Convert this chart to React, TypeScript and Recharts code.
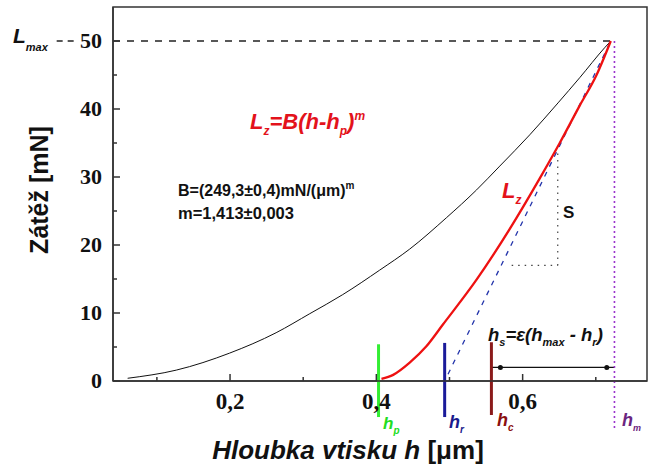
import {
  LineChart,
  Line,
  XAxis,
  YAxis,
  ReferenceLine,
  ReferenceArea,
  ReferenceDot,
} from "recharts";

// loading curve (black)
const loadH = [0.06, 0.1265, 0.1994, 0.263, 0.309, 0.354, 0.4045, 0.4456, 0.4957, 0.537, 0.5687, 0.6097, 0.6484, 0.678, 0.712, 0.7205];
const loadL = [0.4, 1.6, 4.1, 7.1, 9.9, 12.7, 16.3, 19.4, 24.0, 28.1, 31.6, 36.2, 40.9, 44.6, 49.0, 50.0];

// unloading curve (red fit)
const unloadH = [0.407, 0.423, 0.4456, 0.4684, 0.491, 0.537, 0.582, 0.6234, 0.6507, 0.678, 0.701, 0.7205];
const unloadL = [0.3, 0.9, 2.7, 5.1, 8.3, 14.9, 22.3, 29.8, 35.0, 40.5, 45.0, 50.0];

// tangent at the top of unloading (blue dashed)
const tangentH = [0.498, 0.7205];
const tangentL = [1.0, 50.0];

const xTicks = [0.1, 0.2, 0.3, 0.4, 0.5, 0.6, 0.7];
const xLabels: Record<string, string> = { "0.2": "0,2", "0.4": "0,4", "0.6": "0,6" };
const yTicks = [0, 5, 10, 15, 20, 25, 30, 35, 40, 45, 50];

const lMax = 50;
const hp = 0.403;
const hr = 0.4934;
const hc = 0.5573;
const hmax = 0.7255;
const hPeak = 0.7205;
const arrowL = 2;
const sTriangle = { h1: 0.585, h2: 0.648, l1: 17, l2: 34 };

const loadData = loadH.map((h, i) => ({ h, L: loadL[i] }));
const unloadData = unloadH.map((h, i) => ({ h, L: unloadL[i] }));
const tangentData = tangentH.map((h, i) => ({ h, L: tangentL[i] }));

const AXIS = "#333";
const SANS = "'Liberation Sans', Arial, sans-serif";
const SERIF = "'Liberation Serif', 'Times New Roman', serif";

function XTick(props: any) {
  const { x, y, payload } = props;
  const key = String(Math.round(payload.value * 10) / 10);
  const label = xLabels[key];
  return (
    <g>
      <line x1={x} y1={y} x2={x} y2={y - (label ? 7 : 4)} stroke={AXIS} strokeWidth={1.5} />
      {label && (
        <text x={x} y={y + 28} textAnchor="middle" fontFamily={SERIF} fontWeight="bold" fontSize={23} fill="#111">
          {label}
        </text>
      )}
    </g>
  );
}

function YTick(props: any) {
  const { x, y, payload } = props;
  const major = payload.value % 10 === 0;
  return (
    <g>
      <line x1={x} y1={y} x2={x + (major ? 7 : 4)} y2={y} stroke={AXIS} strokeWidth={1.5} />
      {major && (
        <text x={x - 11} y={y + 7} textAnchor="end" fontFamily={SERIF} fontWeight="bold" fontSize={22} fill="#111">
          {payload.value}
        </text>
      )}
    </g>
  );
}

function Overlay() {
  return (
    <svg width={648} height={468} style={{ position: "absolute", left: 0, top: 0, pointerEvents: "none" }}>
      {/* L_max */}
      <text x={13} y={43} fontFamily={SANS} fontWeight="bold" fontStyle="italic" fontSize={21} fill="#111">
        L<tspan fontSize={11} dy={8}>max</tspan>
      </text>

      {/* red fit formula */}
      <text x={250} y={129} fontFamily={SANS} fontWeight="bold" fontStyle="italic" fontSize={22} fill="#e3121b">
        L<tspan fontSize={12} dy={6}>z</tspan>
        <tspan dy={-6}>=B(h-h</tspan>
        <tspan fontSize={12} dy={6}>p</tspan>
        <tspan dy={-6}>)</tspan>
        <tspan fontSize={12} dy={-9}>m</tspan>
      </text>

      <text x={178} y={196} fontFamily={SANS} fontWeight="bold" fontSize={16} fill="#111">
        B=(249,3±0,4)mN/(μm)<tspan fontSize={10} dy={-7}>m</tspan>
      </text>
      <text x={178} y={219} fontFamily={SANS} fontWeight="bold" fontSize={16.5} fill="#111">
        m=1,413±0,003
      </text>

      <text x={502} y={198} fontFamily={SANS} fontWeight="bold" fontStyle="italic" fontSize={22} fill="#e3121b">
        L<tspan fontSize={12} dy={6}>z</tspan>
      </text>

      <text x={563} y={218} fontFamily={SANS} fontWeight="bold" fontSize={17} fill="#111">
        S
      </text>

      <text x={488} y={341} fontFamily={SANS} fontWeight="bold" fontStyle="italic" fontSize={18.5} fill="#111">
        h<tspan fontSize={11} dy={5}>s</tspan>
        <tspan dy={-5}>=ε(h</tspan>
        <tspan fontSize={11} dy={5}>max</tspan>
        <tspan dy={-5}> - h</tspan>
        <tspan fontSize={11} dy={5}>r</tspan>
        <tspan dy={-5}>)</tspan>
      </text>

      <text x={383} y={429} fontFamily={SANS} fontWeight="bold" fontStyle="italic" fontSize={17} fill="#22dd22">
        h<tspan fontSize={10} dy={5}>p</tspan>
      </text>
      <text x={449} y={428} fontFamily={SANS} fontWeight="bold" fontStyle="italic" fontSize={18} fill="#1a1a8c">
        h<tspan fontSize={10} dy={5}>r</tspan>
      </text>
      <text x={497} y={426} fontFamily={SANS} fontWeight="bold" fontStyle="italic" fontSize={18} fill="#8b1010">
        h<tspan fontSize={10} dy={5}>c</tspan>
      </text>
      <text x={622} y={426} fontFamily={SANS} fontWeight="bold" fontStyle="italic" fontSize={18} fill="#6b2580">
        h<tspan fontSize={9} dy={5}>m</tspan>
      </text>

      {/* axis titles */}
      <text
        x={39}
        y={190}
        transform="rotate(-90 39 190)"
        dy={9}
        textAnchor="middle"
        fontFamily={SANS}
        fontWeight="bold"
        fontSize={25}
        fill="#111"
      >
        Zátěž [mN]
      </text>
      <text x={348} y={459} textAnchor="middle" fontFamily={SANS} fontWeight="bold" fontSize={26} fill="#111">
        <tspan fontStyle="italic">Hloubka vtisku h </tspan>[μm]
      </text>
    </svg>
  );
}

export default function App() {
  return (
    <div style={{ position: "absolute", left: 0, top: 0, width: 648, height: 468, background: "#fff" }}>
      <LineChart width={648} height={468} margin={{ top: 7, right: 1, bottom: 0, left: 0 }}>
        <XAxis
          type="number"
          dataKey="h"
          domain={[0.04, 0.77]}
          ticks={xTicks}
          allowDataOverflow
          height={87}
          tickSize={0}
          tickMargin={0}
          tickLine={false}
          axisLine={{ stroke: AXIS, strokeWidth: 1.5 }}
          tick={<XTick />}
        />
        <YAxis
          type="number"
          dataKey="L"
          domain={[0, 55]}
          ticks={yTicks}
          allowDataOverflow
          width={113}
          tickSize={0}
          tickMargin={0}
          tickLine={false}
          axisLine={{ stroke: AXIS, strokeWidth: 1.5 }}
          tick={<YTick />}
        />
        <ReferenceArea x1={0.04} x2={0.77} y1={0} y2={55} fill="none" stroke={AXIS} strokeWidth={1.5} />

        {/* L_max guide */}
        <ReferenceLine
          segment={[{ x: 0.04, y: lMax }, { x: hPeak, y: lMax }]}
          stroke="#222"
          strokeWidth={1.5}
          strokeDasharray="7 7"
          ifOverflow="visible"
        />
        <ReferenceLine
          segment={[{ x: -0.037, y: lMax }, { x: -0.011, y: lMax }]}
          stroke="#222"
          strokeWidth={1.5}
          strokeDasharray="6 5"
          ifOverflow="visible"
        />

        {/* S triangle */}
        <ReferenceLine
          segment={[{ x: sTriangle.h1, y: sTriangle.l1 }, { x: sTriangle.h2, y: sTriangle.l1 }]}
          stroke="#444"
          strokeWidth={1.2}
          strokeDasharray="1.5 5"
          ifOverflow="visible"
        />
        <ReferenceLine
          segment={[{ x: sTriangle.h2, y: sTriangle.l1 }, { x: sTriangle.h2, y: sTriangle.l2 }]}
          stroke="#444"
          strokeWidth={1.2}
          strokeDasharray="1.5 5"
          ifOverflow="visible"
        />

        {/* h_s arrow */}
        <ReferenceLine
          segment={[{ x: hc, y: arrowL }, { x: hmax, y: arrowL }]}
          stroke="#111"
          strokeWidth={1.2}
          ifOverflow="visible"
        />
        <ReferenceDot x={0.5696} y={arrowL} r={2.5} fill="#111" stroke="none" ifOverflow="visible" />
        <ReferenceDot x={0.715} y={arrowL} r={2.5} fill="#111" stroke="none" ifOverflow="visible" />

        {/* depth markers */}
        <ReferenceLine
          segment={[{ x: hmax, y: lMax }, { x: hmax, y: -7.2 }]}
          stroke="#9933cc"
          strokeWidth={1.6}
          strokeDasharray="2 3"
          ifOverflow="visible"
        />
        <ReferenceLine
          segment={[{ x: hp, y: 5.4 }, { x: hp, y: -5.3 }]}
          stroke="#33ee33"
          strokeWidth={3}
          ifOverflow="visible"
        />
        <ReferenceLine
          segment={[{ x: hr, y: 5.6 }, { x: hr, y: -5.3 }]}
          stroke="#1a1a99"
          strokeWidth={3}
          ifOverflow="visible"
        />
        <ReferenceLine
          segment={[{ x: hc, y: 5.7 }, { x: hc, y: -5.0 }]}
          stroke="#8b1a1a"
          strokeWidth={3}
          ifOverflow="visible"
        />

        <Line
          data={tangentData}
          dataKey="L"
          type="linear"
          stroke="#2233aa"
          strokeWidth={1.3}
          strokeDasharray="5 6"
          dot={false}
          isAnimationActive={false}
        />
        <Line
          data={loadData}
          dataKey="L"
          type="monotone"
          stroke="#111"
          strokeWidth={1}
          dot={false}
          isAnimationActive={false}
        />
        <Line
          data={unloadData}
          dataKey="L"
          type="monotone"
          stroke="#ee1111"
          strokeWidth={2.3}
          dot={false}
          isAnimationActive={false}
        />
      </LineChart>
      <Overlay />
    </div>
  );
}
